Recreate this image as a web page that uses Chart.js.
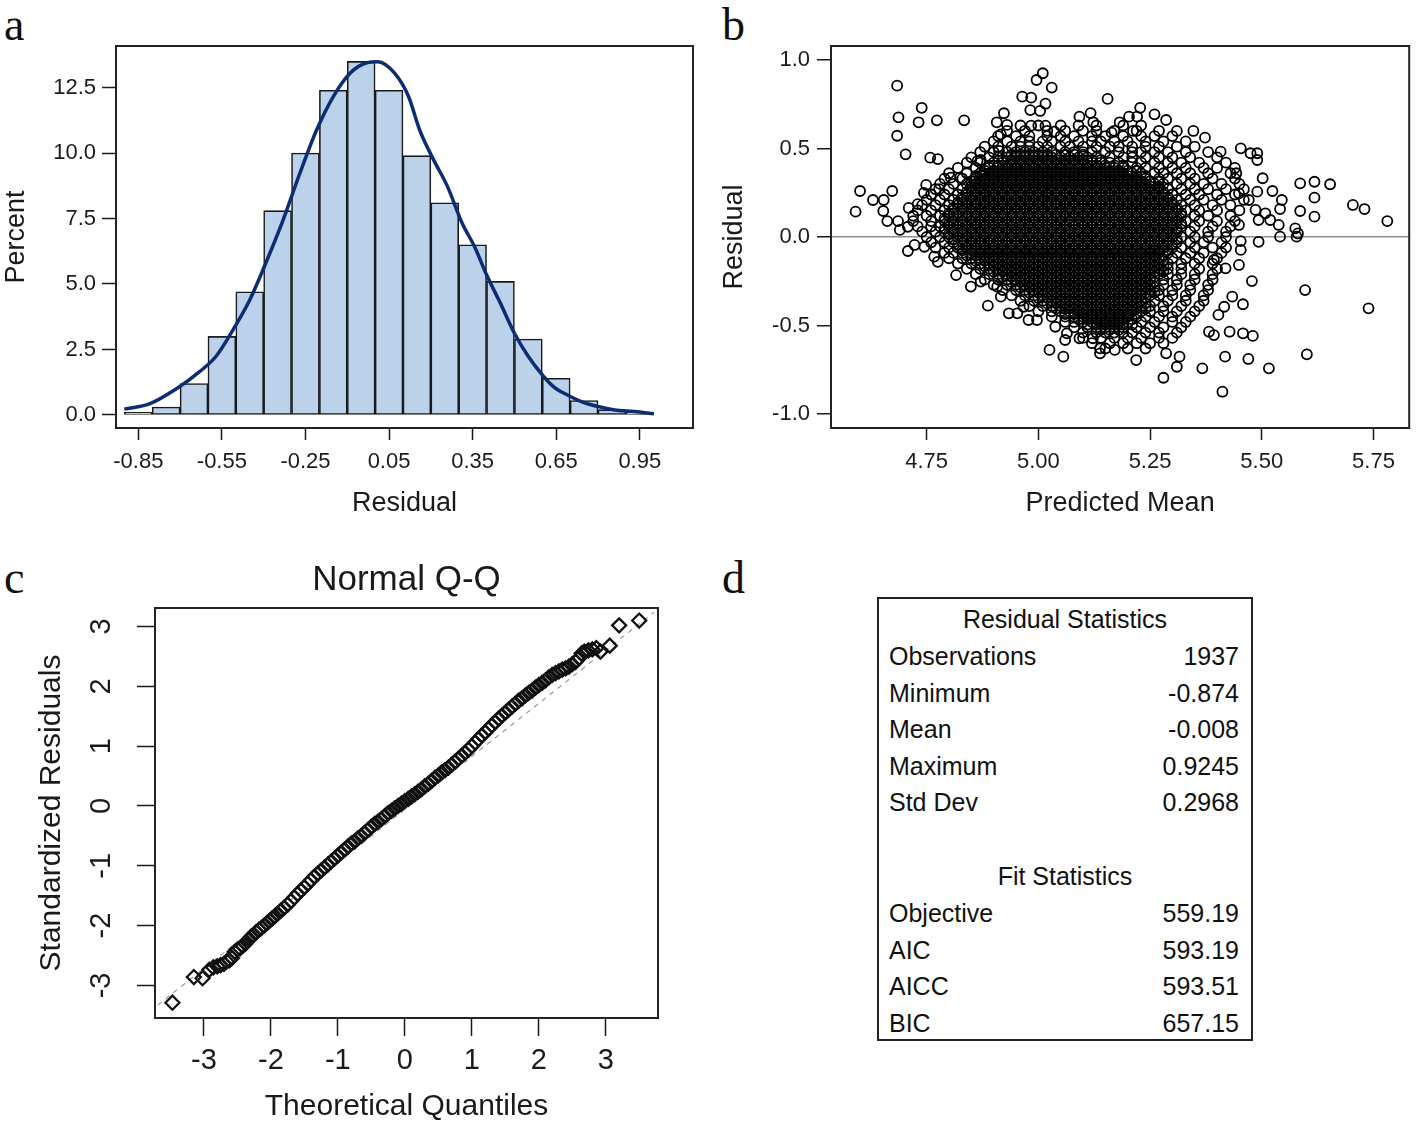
<!DOCTYPE html>
<html>
<head>
<meta charset="utf-8">
<script src="https://cdn.jsdelivr.net/npm/chart.js@4.4.1/dist/chart.umd.min.js"></script>
<style>
  body { margin: 0; background: #fff; width: 1416px; height: 1125px; position: relative; overflow: hidden;
         font-family: "Liberation Sans", Arial, sans-serif; color: #111; }
  canvas { position: absolute; }
  .tag { position: absolute; font-family: "Liberation Serif", "Times New Roman", serif; font-size: 46px; line-height: 1; color: #111; }
  #stats { position: absolute; left: 877px; top: 597px; width: 372px; height: 440px; border: 2px solid #222; font-size: 25px; }
  #stats .row { position: absolute; left: 10px; right: 12px; height: 28px; line-height: 28px; }
  #stats .row .v { float: right; }
  #stats .head { text-align: center; left: 0; right: 0; }
</style>
</head>
<body>
<div class="tag" style="left:4px;top:2px">a</div>
<div class="tag" style="left:722px;top:2px">b</div>
<div class="tag" style="left:4px;top:555px">c</div>
<div class="tag" style="left:722px;top:555px">d</div>

<canvas id="histChart" width="710" height="530" style="left:0;top:0"></canvas>
<canvas id="residChart" width="706" height="530" style="left:710px;top:0"></canvas>
<canvas id="qqChart" width="710" height="585" style="left:0;top:540px"></canvas>
<div id="stats"></div>

<script>
// ===== a: histogram of residuals =====
const binCenters = [-0.85, -0.75, -0.65, -0.55, -0.45, -0.35, -0.25, -0.15, -0.05, 0.05,
                    0.15, 0.25, 0.35, 0.45, 0.55, 0.65, 0.75, 0.85, 0.95];
const binPercent = [0.1, 0.3, 1.2, 3.0, 4.7, 7.8, 10.0, 12.4, 13.5, 12.4,
                    9.9, 8.1, 6.5, 5.1, 2.9, 1.4, 0.55, 0.2, 0.1];
const curveX = [-0.90, -0.81, -0.71, -0.63, -0.57, -0.51, -0.45, -0.39, -0.33, -0.27, -0.21, -0.15, -0.09, -0.03,
                0.01, 0.07, 0.12, 0.16, 0.21, 0.26, 0.31, 0.36, 0.40, 0.45, 0.50, 0.55, 0.60, 0.64, 0.69, 0.74,
                0.80, 0.86, 0.93, 1.00];
const curveY = [0.22, 0.42, 1.02, 1.65, 2.25, 3.25, 4.39, 5.86, 7.45, 9.23, 10.88, 12.16, 13.05, 13.45,
                13.49, 13.05, 12.16, 10.88, 9.74, 8.72, 7.38, 6.36, 5.35, 4.26, 3.12, 2.23, 1.53, 1.08, 0.76, 0.51,
                0.32, 0.19, 0.13, 0.04];
const residualTicks = [-0.85, -0.55, -0.25, 0.05, 0.35, 0.65, 0.95];
const percentTicks = [0, 2.5, 5, 7.5, 10, 12.5];

// ===== b: residual vs predicted mean =====
const meanTicks = [4.75, 5.0, 5.25, 5.5, 5.75];
const residTicks = [-1, -0.5, 0, 0.5, 1];
// the cloud, read row by row (residual level -> predicted means)
const residualRows = [0.63, 0.60, 0.57, 0.54, 0.51, 0.48, 0.45, 0.42, 0.39, 0.36, 0.33, 0.30, 0.27, 0.24, 0.21,
                      0.18, 0.15, 0.12, 0.09, 0.06, 0.03, 0.00, -0.03, -0.06, -0.09, -0.12, -0.15, -0.18, -0.21,
                      -0.24, -0.27, -0.30, -0.33, -0.36, -0.39, -0.42, -0.45, -0.48, -0.51, -0.54, -0.57, -0.60, -0.63];
const rowMeans = [
  [4.96,5.00,5.05,5.09,5.13,5.19,5.23],
  [4.93,4.97,5.02,5.06,5.10,5.13,5.17,5.22,5.27],
  [4.91,4.95,4.98,5.02,5.05,5.08,5.12,5.15,5.19,5.23,5.26,5.30],
  [4.90,4.93,4.96,4.98,5.01,5.03,5.06,5.09,5.12,5.14,5.17,5.20,5.24,5.28,5.33],
  [4.88,4.91,4.94,4.96,4.98,5.00,5.02,5.05,5.07,5.10,5.13,5.16,5.18,5.21,5.24,5.27,5.31,5.35],
  [4.87,4.90,4.93,4.95,4.97,4.99,5.01,5.03,5.06,5.08,5.10,5.12,5.15,5.18,5.21,5.23,5.26,5.29,5.33,5.38],
  [4.85,4.89,4.91,4.93,4.95,4.97,4.99,5.01,5.03,5.05,5.07,5.09,5.11,5.13,5.16,5.19,5.21,5.24,5.27,5.30,5.34,5.40],
  [4.84,4.87,4.90,4.92,4.94,4.96,4.98,5.00,5.02,5.04,5.06,5.08,5.10,5.12,5.14,5.16,5.18,5.21,5.23,5.26,5.29,5.32,5.36,5.42],
  [4.82,4.86,4.89,4.91,4.93,4.95,4.97,4.99,5.01,5.03,5.05,5.07,5.09,5.11,5.13,5.15,5.17,5.19,5.22,5.24,5.27,5.30,5.33,5.37,5.40,5.44],
  [4.80,4.84,4.87,4.89,4.91,4.93,4.95,4.97,4.99,5.01,5.03,5.05,5.07,5.09,5.11,5.13,5.15,5.17,5.19,5.21,5.23,5.26,5.28,5.31,5.34,5.38,5.43],
  [4.79,4.83,4.86,4.88,4.90,4.92,4.94,4.96,4.98,5.00,5.02,5.04,5.06,5.08,5.10,5.12,5.14,5.16,5.18,5.20,5.22,5.24,5.27,5.29,5.32,5.35,5.39,5.44],
  [4.78,4.81,4.84,4.86,4.88,4.90,4.92,4.94,4.96,4.98,5.00,5.02,5.04,5.06,5.08,5.10,5.12,5.14,5.16,5.18,5.20,5.22,5.24,5.26,5.28,5.31,5.34,5.37,5.41,5.45],
  [4.77,4.80,4.83,4.85,4.87,4.89,4.91,4.93,4.95,4.97,4.99,5.01,5.03,5.05,5.07,5.09,5.11,5.13,5.15,5.17,5.19,5.21,5.23,5.25,5.27,5.29,5.32,5.35,5.38,5.42,5.46],
  [4.76,4.79,4.82,4.84,4.86,4.88,4.90,4.92,4.94,4.96,4.98,5.00,5.02,5.04,5.06,5.08,5.10,5.12,5.14,5.16,5.18,5.20,5.22,5.24,5.26,5.28,5.30,5.33,5.36,5.40,5.44],
  [4.75,4.78,4.81,4.83,4.85,4.87,4.89,4.91,4.93,4.95,4.97,4.99,5.01,5.03,5.05,5.07,5.09,5.11,5.13,5.15,5.17,5.19,5.21,5.23,5.25,5.27,5.29,5.31,5.34,5.37,5.41,5.46],
  [4.74,4.77,4.80,4.82,4.84,4.86,4.88,4.90,4.92,4.94,4.96,4.98,5.00,5.02,5.04,5.06,5.08,5.10,5.12,5.14,5.16,5.18,5.20,5.22,5.24,5.26,5.28,5.30,5.32,5.35,5.39,5.43],
  [4.73,4.76,4.79,4.81,4.83,4.85,4.87,4.89,4.91,4.93,4.95,4.97,4.99,5.01,5.03,5.05,5.07,5.09,5.11,5.13,5.15,5.17,5.19,5.21,5.23,5.25,5.27,5.29,5.31,5.33,5.36,5.40,5.45],
  [4.72,4.75,4.78,4.80,4.82,4.84,4.86,4.88,4.90,4.92,4.94,4.96,4.98,5.00,5.02,5.04,5.06,5.08,5.10,5.12,5.14,5.16,5.18,5.20,5.22,5.24,5.26,5.28,5.30,5.32,5.35,5.38,5.43],
  [4.72,4.76,4.79,4.81,4.83,4.85,4.87,4.89,4.91,4.93,4.95,4.97,4.99,5.01,5.03,5.05,5.07,5.09,5.11,5.13,5.15,5.17,5.19,5.21,5.23,5.25,5.27,5.29,5.31,5.33,5.36,5.40,5.44],
  [4.73,4.76,4.78,4.80,4.82,4.84,4.86,4.88,4.90,4.92,4.94,4.96,4.98,5.00,5.02,5.04,5.06,5.08,5.10,5.12,5.14,5.16,5.18,5.20,5.22,5.24,5.26,5.28,5.30,5.32,5.35,5.39,5.43],
  [4.74,4.77,4.79,4.81,4.83,4.85,4.87,4.89,4.91,4.93,4.95,4.97,4.99,5.01,5.03,5.05,5.07,5.09,5.11,5.13,5.15,5.17,5.19,5.21,5.23,5.25,5.27,5.29,5.31,5.34,5.38,5.42],
  [4.75,4.78,4.80,4.82,4.84,4.86,4.88,4.90,4.92,4.94,4.96,4.98,5.00,5.02,5.04,5.06,5.08,5.10,5.12,5.14,5.16,5.18,5.20,5.22,5.24,5.26,5.28,5.30,5.32,5.35,5.38,5.42],
  [4.76,4.79,4.81,4.83,4.85,4.87,4.89,4.91,4.93,4.95,4.97,4.99,5.01,5.03,5.05,5.07,5.09,5.11,5.13,5.15,5.17,5.19,5.21,5.23,5.25,5.27,5.29,5.31,5.34,5.37,5.41],
  [4.77,4.80,4.82,4.84,4.86,4.88,4.90,4.92,4.94,4.96,4.98,5.00,5.02,5.04,5.06,5.08,5.10,5.12,5.14,5.16,5.18,5.20,5.22,5.24,5.26,5.28,5.30,5.32,5.35,5.39,5.42],
  [4.79,4.81,4.83,4.85,4.87,4.89,4.91,4.93,4.95,4.97,4.99,5.01,5.03,5.05,5.07,5.09,5.11,5.13,5.15,5.17,5.19,5.21,5.23,5.25,5.27,5.29,5.31,5.34,5.37,5.41],
  [4.80,4.83,4.85,4.87,4.89,4.91,4.93,4.95,4.97,4.99,5.01,5.03,5.05,5.07,5.09,5.11,5.13,5.15,5.17,5.19,5.21,5.23,5.25,5.27,5.30,5.33,5.36,5.40],
  [4.82,4.85,4.87,4.89,4.91,4.93,4.95,4.97,4.99,5.01,5.03,5.05,5.07,5.09,5.11,5.13,5.15,5.17,5.19,5.21,5.23,5.25,5.27,5.29,5.32,5.35,5.39],
  [4.84,4.87,4.89,4.91,4.93,4.95,4.97,4.99,5.01,5.03,5.05,5.07,5.09,5.11,5.13,5.15,5.17,5.19,5.21,5.23,5.25,5.27,5.29,5.32,5.36,5.40],
  [4.86,4.89,4.91,4.93,4.95,4.97,4.99,5.01,5.03,5.05,5.07,5.09,5.11,5.13,5.15,5.17,5.19,5.21,5.23,5.25,5.27,5.29,5.32,5.35,5.39],
  [4.88,4.91,4.93,4.95,4.97,4.99,5.01,5.03,5.05,5.07,5.09,5.11,5.13,5.15,5.17,5.19,5.21,5.23,5.25,5.28,5.31,5.35,5.39],
  [4.90,4.93,4.95,4.97,4.99,5.01,5.03,5.05,5.07,5.09,5.11,5.13,5.15,5.17,5.19,5.21,5.23,5.25,5.28,5.31,5.34,5.38],
  [4.92,4.95,4.97,4.99,5.01,5.03,5.05,5.07,5.09,5.11,5.13,5.15,5.17,5.19,5.21,5.23,5.25,5.27,5.30,5.34,5.38],
  [4.94,4.97,4.99,5.01,5.03,5.05,5.07,5.09,5.11,5.13,5.15,5.17,5.19,5.21,5.23,5.25,5.27,5.30,5.33,5.37],
  [4.96,4.99,5.01,5.03,5.05,5.07,5.09,5.11,5.13,5.15,5.17,5.19,5.21,5.23,5.26,5.29,5.33,5.37],
  [4.98,5.01,5.03,5.05,5.07,5.09,5.11,5.13,5.15,5.17,5.19,5.21,5.23,5.25,5.28,5.32,5.36],
  [5.00,5.03,5.05,5.07,5.09,5.11,5.13,5.15,5.17,5.19,5.21,5.23,5.25,5.28,5.31,5.35],
  [5.03,5.06,5.08,5.10,5.12,5.14,5.16,5.18,5.20,5.22,5.24,5.27,5.30,5.34],
  [5.06,5.08,5.10,5.12,5.14,5.16,5.18,5.20,5.23,5.26,5.30,5.33],
  [5.08,5.11,5.13,5.15,5.17,5.19,5.22,5.25,5.28,5.32],
  [5.10,5.13,5.15,5.17,5.19,5.21,5.24,5.27,5.31],
  [5.10,5.14,5.17,5.20,5.23,5.27,5.30],
  [5.12,5.16,5.19,5.22,5.25,5.28],
  [5.15,5.20,5.24]
];
// the solid black middle has points in between those rows too
const blackRows = [0.465, 0.435, 0.405, 0.375, 0.345, 0.315, 0.285, 0.255, 0.225, 0.195, 0.165, 0.135, 0.105,
                   0.075, 0.045, 0.015, -0.015, -0.045, -0.075, -0.105, -0.135, -0.165, -0.195, -0.225, -0.255,
                   -0.285, -0.315, -0.345, -0.375, -0.405, -0.435, -0.465, -0.495, -0.525];
const blackMeans = [
  [4.94,4.96,4.98,5.00,5.02,5.04,5.06,5.08,5.10],
  [4.92,4.94,4.96,4.98,5.00,5.02,5.04,5.06,5.08,5.10,5.12,5.14],
  [4.89,4.91,4.93,4.95,4.97,4.99,5.01,5.03,5.05,5.07,5.09,5.11,5.13,5.15,5.17,5.19],
  [4.88,4.90,4.92,4.94,4.96,4.98,5.00,5.02,5.04,5.06,5.08,5.10,5.12,5.14,5.16,5.18,5.20,5.22],
  [4.86,4.88,4.90,4.92,4.94,4.96,4.98,5.00,5.02,5.04,5.06,5.08,5.10,5.12,5.14,5.16,5.18,5.20,5.22,5.24],
  [4.85,4.87,4.89,4.91,4.93,4.95,4.97,4.99,5.01,5.03,5.05,5.07,5.09,5.11,5.13,5.15,5.17,5.19,5.21,5.23,5.25,5.27],
  [4.85,4.87,4.89,4.91,4.93,4.95,4.97,4.99,5.01,5.03,5.05,5.07,5.09,5.11,5.13,5.15,5.17,5.19,5.21,5.23,5.25,5.27],
  [4.84,4.86,4.88,4.90,4.92,4.94,4.96,4.98,5.00,5.02,5.04,5.06,5.08,5.10,5.12,5.14,5.16,5.18,5.20,5.22,5.24,5.26,5.28],
  [4.83,4.85,4.87,4.89,4.91,4.93,4.95,4.97,4.99,5.01,5.03,5.05,5.07,5.09,5.11,5.13,5.15,5.17,5.19,5.21,5.23,5.25,5.27,5.29],
  [4.82,4.84,4.86,4.88,4.90,4.92,4.94,4.96,4.98,5.00,5.02,5.04,5.06,5.08,5.10,5.12,5.14,5.16,5.18,5.20,5.22,5.24,5.26,5.28,5.30],
  [4.81,4.83,4.85,4.87,4.89,4.91,4.93,4.95,4.97,4.99,5.01,5.03,5.05,5.07,5.09,5.11,5.13,5.15,5.17,5.19,5.21,5.23,5.25,5.27,5.29,5.31],
  [4.80,4.82,4.84,4.86,4.88,4.90,4.92,4.94,4.96,4.98,5.00,5.02,5.04,5.06,5.08,5.10,5.12,5.14,5.16,5.18,5.20,5.22,5.24,5.26,5.28,5.30,5.32],
  [4.79,4.81,4.83,4.85,4.87,4.89,4.91,4.93,4.95,4.97,4.99,5.01,5.03,5.05,5.07,5.09,5.11,5.13,5.15,5.17,5.19,5.21,5.23,5.25,5.27,5.29,5.31],
  [4.80,4.82,4.84,4.86,4.88,4.90,4.92,4.94,4.96,4.98,5.00,5.02,5.04,5.06,5.08,5.10,5.12,5.14,5.16,5.18,5.20,5.22,5.24,5.26,5.28,5.30,5.32],
  [4.79,4.81,4.83,4.85,4.87,4.89,4.91,4.93,4.95,4.97,4.99,5.01,5.03,5.05,5.07,5.09,5.11,5.13,5.15,5.17,5.19,5.21,5.23,5.25,5.27,5.29,5.31],
  [4.80,4.82,4.84,4.86,4.88,4.90,4.92,4.94,4.96,4.98,5.00,5.02,5.04,5.06,5.08,5.10,5.12,5.14,5.16,5.18,5.20,5.22,5.24,5.26,5.28,5.30],
  [4.81,4.83,4.85,4.87,4.89,4.91,4.93,4.95,4.97,4.99,5.01,5.03,5.05,5.07,5.09,5.11,5.13,5.15,5.17,5.19,5.21,5.23,5.25,5.27,5.29,5.31],
  [4.82,4.84,4.86,4.88,4.90,4.92,4.94,4.96,4.98,5.00,5.02,5.04,5.06,5.08,5.10,5.12,5.14,5.16,5.18,5.20,5.22,5.24,5.26,5.28,5.30],
  [4.83,4.85,4.87,4.89,4.91,4.93,4.95,4.97,4.99,5.01,5.03,5.05,5.07,5.09,5.11,5.13,5.15,5.17,5.19,5.21,5.23,5.25,5.27,5.29],
  [4.84,4.86,4.88,4.90,4.92,4.94,4.96,4.98,5.00,5.02,5.04,5.06,5.08,5.10,5.12,5.14,5.16,5.18,5.20,5.22,5.24,5.26,5.28],
  [4.86,4.88,4.90,4.92,4.94,4.96,4.98,5.00,5.02,5.04,5.06,5.08,5.10,5.12,5.14,5.16,5.18,5.20,5.22,5.24,5.26,5.28],
  [4.88,4.90,4.92,4.94,4.96,4.98,5.00,5.02,5.04,5.06,5.08,5.10,5.12,5.14,5.16,5.18,5.20,5.22,5.24,5.26,5.28],
  [4.90,4.92,4.94,4.96,4.98,5.00,5.02,5.04,5.06,5.08,5.10,5.12,5.14,5.16,5.18,5.20,5.22,5.24,5.26,5.28],
  [4.92,4.94,4.96,4.98,5.00,5.02,5.04,5.06,5.08,5.10,5.12,5.14,5.16,5.18,5.20,5.22,5.24,5.26],
  [4.94,4.96,4.98,5.00,5.02,5.04,5.06,5.08,5.10,5.12,5.14,5.16,5.18,5.20,5.22,5.24,5.26],
  [4.96,4.98,5.00,5.02,5.04,5.06,5.08,5.10,5.12,5.14,5.16,5.18,5.20,5.22,5.24,5.26],
  [4.98,5.00,5.02,5.04,5.06,5.08,5.10,5.12,5.14,5.16,5.18,5.20,5.22,5.24,5.26],
  [5.00,5.02,5.04,5.06,5.08,5.10,5.12,5.14,5.16,5.18,5.20,5.22,5.24],
  [5.02,5.04,5.06,5.08,5.10,5.12,5.14,5.16,5.18,5.20,5.22,5.24],
  [5.04,5.06,5.08,5.10,5.12,5.14,5.16,5.18,5.20,5.22,5.24],
  [5.06,5.08,5.10,5.12,5.14,5.16,5.18,5.20,5.22],
  [5.09,5.11,5.13,5.15,5.17,5.19,5.21],
  [5.11,5.13,5.15,5.17,5.19,5.21],
  [5.14,5.16,5.18]
];
// points around the edge of the cloud [predicted mean, residual]
const edgePoints = [
  [4.684,0.855],[4.687,0.676],[4.684,0.572],[4.703,0.467],[4.739,0.73],[4.732,0.648],[4.773,0.659],[4.834,0.659],
  [4.758,0.448],[4.775,0.44],[4.601,0.26],[4.591,0.143],[4.630,0.209],[4.654,0.209],[4.673,0.26],[4.653,0.147],
  [4.662,0.09],[4.686,0.09],[4.69,0.04],[4.71,0.164],[4.73,0.186],[4.708,0.058],[4.749,0.294],[4.744,0.249],
  [4.778,0.271],[4.804,0.335],[4.825,0.335],[4.856,0.316],[4.875,0.35],[4.871,0.435],[4.864,0.43],[4.912,0.486],
  [4.916,0.58],[4.923,0.699],[4.907,0.648],[4.93,0.633],[4.964,0.793],[4.984,0.787],[4.982,0.717],[5.004,0.712],
  [5.016,0.753],[4.996,0.887],[5.01,0.925],[5.03,0.844],[4.984,0.629],[5.016,0.629],[5.036,0.595],[5.092,0.68],
  [5.117,0.70],[5.123,0.648],[5.155,0.78],[5.228,0.73],[5.203,0.68],[5.221,0.68],[5.182,0.648],[5.26,0.693],
  [5.286,0.661],[5.164,0.59],[5.212,0.599],[5.31,0.599],[5.347,0.599],[5.373,0.561],[5.408,0.482],[5.453,0.501],
  [5.475,0.473],[5.49,0.473],[5.49,0.435],[5.443,0.36],[5.502,0.332],[5.586,0.303],[5.618,0.312],[5.653,0.298],
  [5.618,0.222],[5.704,0.181],[5.73,0.158],[5.781,0.09],[5.586,0.147],[5.618,0.115],[5.524,0.26],[5.545,0.209],
  [5.541,0.158],[5.49,0.256],[5.471,0.209],[5.449,0.247],[5.486,0.153],[5.508,0.134],[5.519,0.096],[5.493,0.096],
  [5.449,0.068],[5.538,0.068],[5.575,0.049],[5.581,0.02],[5.453,-0.023],[5.453,-0.073],[5.493,-0.027],[5.541,0.002],
  [5.578,0.002],[5.449,-0.158],[5.393,-0.13],[5.419,-0.177],[5.478,-0.249],[5.597,-0.30],[5.739,-0.403],[5.458,-0.38],
  [5.434,-0.337],[5.416,-0.394],[5.403,-0.44],[5.428,-0.535],[5.458,-0.544],[5.48,-0.559],[5.393,-0.554],[5.382,-0.535],
  [5.418,-0.676],[5.47,-0.689],[5.516,-0.742],[5.367,-0.742],[5.31,-0.733],[5.28,-0.795],[5.412,-0.874],[5.601,-0.663],
  [5.316,-0.676],[5.286,-0.657],[5.219,-0.695],[5.171,-0.638],[5.138,-0.629],[4.708,-0.079],[4.723,-0.045],[4.745,-0.055],
  [4.767,-0.111],[4.775,-0.14],[4.816,-0.215],[4.849,-0.28],[4.871,-0.252],[4.887,-0.388],[4.916,-0.337],[4.908,-0.28],
  [4.934,-0.431],[4.953,-0.431],[4.978,-0.469],[4.997,-0.469],[4.967,-0.394],[5.025,-0.638],[5.056,-0.676],[5.038,-0.507],
  [5.06,-0.582],[5.064,-0.544],[5.092,-0.572],[5.122,-0.572],[5.138,-0.657]
];

// ===== c: normal Q-Q =====
const quantileTicks = [-3, -2, -1, 0, 1, 2, 3];
const qqTheoretical = [-3.47,-3.15,-3.02,-2.92,-2.86,-2.80,-2.75,-2.70,-2.66,-2.62,-2.58,-2.54,-2.50,-2.46,-2.42,-2.38,
  -2.34,-2.30,-2.26,-2.22,-2.18,-2.14,-2.10,-2.06,-2.02,-1.98,-1.94,-1.90,-1.85,-1.80,-1.75,-1.70,-1.65,-1.60,-1.55,
  -1.50,-1.45,-1.40,-1.35,-1.30,-1.25,-1.20,-1.15,-1.10,-1.05,-1.00,-0.95,-0.90,-0.85,-0.80,-0.75,-0.70,-0.65,-0.60,
  -0.55,-0.50,-0.45,-0.40,-0.35,-0.30,-0.25,-0.20,-0.15,-0.10,-0.05,0.00,0.05,0.10,0.15,0.20,0.25,0.30,0.35,0.40,0.45,
  0.50,0.55,0.60,0.65,0.70,0.75,0.80,0.85,0.90,0.95,1.00,1.05,1.10,1.15,1.20,1.25,1.30,1.35,1.40,1.45,1.50,1.55,1.60,
  1.65,1.70,1.75,1.80,1.85,1.90,1.95,2.00,2.05,2.10,2.15,2.20,2.25,2.30,2.35,2.40,2.45,2.50,2.55,2.60,2.64,2.68,2.74,
  2.80,2.86,2.92,3.06,3.20,3.50];
const qqSample = [-3.29,-2.86,-2.88,-2.74,-2.70,-2.68,-2.66,-2.64,-2.60,-2.58,-2.54,-2.44,-2.40,-2.38,-2.34,-2.30,
  -2.24,-2.19,-2.16,-2.11,-2.07,-2.04,-2.00,-1.96,-1.92,-1.88,-1.84,-1.80,-1.75,-1.70,-1.65,-1.59,-1.53,-1.47,-1.41,
  -1.36,-1.30,-1.24,-1.18,-1.13,-1.08,-1.03,-0.98,-0.93,-0.88,-0.83,-0.78,-0.73,-0.68,-0.63,-0.59,-0.54,-0.50,-0.45,
  -0.40,-0.35,-0.30,-0.26,-0.22,-0.17,-0.12,-0.08,-0.04,0.00,0.04,0.08,0.12,0.16,0.20,0.24,0.28,0.33,0.37,0.42,0.47,
  0.51,0.56,0.60,0.64,0.69,0.74,0.79,0.84,0.89,0.94,1.00,1.06,1.12,1.18,1.23,1.29,1.35,1.40,1.46,1.51,1.56,1.61,1.66,
  1.71,1.76,1.80,1.85,1.89,1.93,1.98,2.02,2.06,2.10,2.15,2.19,2.22,2.25,2.28,2.30,2.33,2.37,2.41,2.47,2.55,2.58,2.60,
  2.62,2.64,2.58,2.68,3.02,3.10];
const qqLineX = [-3.69, 3.72];
const qqLineY = [-3.33, 3.24];

// ===== d: statistics table =====
const residualStatNames = ["Observations", "Minimum", "Mean", "Maximum", "Std Dev"];
const residualStatValues = ["1937", "-0.874", "-0.008", "0.9245", "0.2968"];
const fitStatNames = ["Objective", "AIC", "AICC", "BIC"];
const fitStatValues = ["559.19", "593.19", "593.51", "657.15"];

const FONT = '"Liberation Sans", Arial, sans-serif';
const INK = "#1a1a1a";

// khung bao quanh vùng vẽ
const framePlugin = {
  id: "frame",
  afterDraw(chart) {
    const { ctx, chartArea: a } = chart;
    ctx.save();
    ctx.strokeStyle = "#222";
    ctx.lineWidth = 2;
    ctx.strokeRect(a.left, a.top, a.right - a.left, a.bottom - a.top);
    ctx.restore();
  },
};

function fixedTicks(list) {
  return function (scale) {
    scale.ticks = list.map((v) => ({ value: v }));
  };
}

function tickGrid(len) {
  return { display: true, drawOnChartArea: false, drawTicks: true, tickLength: len, tickColor: INK, tickWidth: 1.5 };
}

/* ===== a ===== */
new Chart(document.getElementById("histChart"), {
  type: "bar",
  data: {
    datasets: [
      {
        type: "line",
        data: curveX.map((x, i) => ({ x: x, y: curveY[i] })),
        borderColor: "#0c2c74",
        borderWidth: 3.5,
        pointRadius: 0,
        cubicInterpolationMode: "monotone",
        order: 0,
      },
      {
        type: "bar",
        data: binCenters.map((x, i) => ({ x: x, y: binPercent[i] })),
        backgroundColor: "#bcd2ea",
        borderColor: INK,
        borderWidth: 1.6,
        borderSkipped: false,
        barPercentage: 1,
        categoryPercentage: 1,
        grouped: false,
        order: 1,
      },
    ],
  },
  options: {
    responsive: false,
    animation: false,
    layout: { padding: { top: 46, right: 17, left: 0, bottom: 0 } },
    plugins: { legend: { display: false }, tooltip: { enabled: false } },
    scales: {
      x: {
        type: "linear",
        min: -0.93,
        max: 1.141,
        offset: false,
        afterBuildTicks: fixedTicks(residualTicks),
        afterFit: (s) => { s.height = 102; },
        grid: Object.assign(tickGrid(12), { offset: false }),
        border: { display: false },
        ticks: { font: { family: FONT, size: 22 }, color: INK, padding: 9, maxRotation: 0, callback: (v) => v.toFixed(2) },
        title: { display: true, text: "Residual", font: { family: FONT, size: 27 }, color: INK, padding: { top: 0, bottom: 10 } },
      },
      y: {
        type: "linear",
        min: -0.5,
        max: 14.09,
        afterBuildTicks: fixedTicks(percentTicks),
        afterFit: (s) => { s.width = 116; },
        grid: tickGrid(14),
        border: { display: false },
        ticks: { font: { family: FONT, size: 22 }, color: INK, padding: 6, callback: (v) => v.toFixed(1) },
        title: { display: true, text: "Percent", font: { family: FONT, size: 27 }, color: INK, padding: { top: 0, bottom: 0 } },
      },
    },
  },
  plugins: [framePlugin],
});

/* ===== b ===== */
const scatterData = [];
residualRows.forEach((r, i) => {
  rowMeans[i].forEach((m) => scatterData.push({ x: m, y: r }));
});
blackRows.forEach((r, i) => {
  blackMeans[i].forEach((m) => scatterData.push({ x: m, y: r }));
});
edgePoints.forEach((p) => scatterData.push({ x: p[0], y: p[1] }));

new Chart(document.getElementById("residChart"), {
  type: "scatter",
  data: {
    datasets: [
      {
        data: scatterData,
        pointStyle: "circle",
        pointRadius: 5,
        pointBorderWidth: 1.8,
        borderColor: "#000",
        backgroundColor: "rgba(0,0,0,0)",
      },
    ],
  },
  options: {
    responsive: false,
    animation: false,
    layout: { padding: { top: 46, right: 5, left: 0, bottom: 0 } },
    plugins: { legend: { display: false }, tooltip: { enabled: false } },
    scales: {
      x: {
        type: "linear",
        min: 4.536,
        max: 5.83,
        afterBuildTicks: fixedTicks(meanTicks),
        afterFit: (s) => { s.height = 102; },
        grid: tickGrid(12),
        border: { display: false },
        ticks: { font: { family: FONT, size: 22 }, color: INK, padding: 9, maxRotation: 0, callback: (v) => v.toFixed(2) },
        title: { display: true, text: "Predicted Mean", font: { family: FONT, size: 27 }, color: INK, padding: { top: 0, bottom: 10 } },
      },
      y: {
        type: "linear",
        min: -1.079,
        max: 1.079,
        afterBuildTicks: fixedTicks(residTicks),
        afterFit: (s) => { s.width = 121; },
        grid: {
          display: true,
          drawOnChartArea: true,
          drawTicks: true,
          tickLength: 14,
          tickColor: INK,
          tickWidth: 1.5,
          lineWidth: 1.5,
          color: (c) => (c.tick && c.tick.value === 0 ? "#8c8c8c" : "rgba(0,0,0,0)"),
        },
        border: { display: false },
        ticks: { font: { family: FONT, size: 22 }, color: INK, padding: 7, callback: (v) => v.toFixed(1) },
        title: { display: true, text: "Residual", font: { family: FONT, size: 27 }, color: INK, padding: { top: 8, bottom: 0 } },
      },
    },
  },
  plugins: [framePlugin],
});

/* ===== c ===== */
const qqTitle = {
  id: "qqTitle",
  afterDraw(chart) {
    const { ctx, chartArea: a } = chart;
    ctx.save();
    ctx.font = "35px " + FONT;
    ctx.fillStyle = INK;
    ctx.textAlign = "center";
    ctx.textBaseline = "middle";
    ctx.fillText("Normal Q-Q", (a.left + a.right) / 2, 40);
    // nhãn trục y xoay dọc như R
    const ys = chart.scales.y;
    ctx.font = "29px " + FONT;
    quantileTicks.forEach((v) => {
      ctx.save();
      ctx.translate(102, ys.getPixelForValue(v));
      ctx.rotate(-Math.PI / 2);
      ctx.fillText(String(v), 0, 0);
      ctx.restore();
    });
    ctx.restore();
  },
};

new Chart(document.getElementById("qqChart"), {
  type: "scatter",
  data: {
    datasets: [
      {
        data: qqTheoretical.map((x, i) => ({ x: x, y: qqSample[i] })),
        pointStyle: "rectRot",
        pointRadius: 7,
        pointBorderWidth: 2.3,
        borderColor: "#111",
        backgroundColor: "rgba(0,0,0,0)",
        order: 0,
      },
      {
        data: qqLineX.map((x, i) => ({ x: x, y: qqLineY[i] })),
        showLine: true,
        borderColor: "#9a9a9a",
        borderWidth: 1.2,
        borderDash: [5, 5],
        pointRadius: 0,
        order: 1,
      },
    ],
  },
  options: {
    responsive: false,
    animation: false,
    layout: { padding: { top: 68, right: 52, left: 0, bottom: 0 } },
    plugins: { legend: { display: false }, tooltip: { enabled: false } },
    scales: {
      x: {
        type: "linear",
        min: -3.73,
        max: 3.78,
        afterBuildTicks: fixedTicks(quantileTicks),
        afterFit: (s) => { s.height = 107; },
        grid: tickGrid(18),
        border: { display: false },
        ticks: { font: { family: FONT, size: 29 }, color: INK, padding: 8, maxRotation: 0 },
        title: { display: true, text: "Theoretical Quantiles", font: { family: FONT, size: 30 }, color: INK, padding: { top: 0, bottom: 0 } },
      },
      y: {
        type: "linear",
        min: -3.545,
        max: 3.31,
        afterBuildTicks: fixedTicks(quantileTicks),
        afterFit: (s) => { s.width = 155; },
        grid: tickGrid(18),
        border: { display: false },
        ticks: { display: false },
        title: { display: true, text: "Standardized Residuals", font: { family: FONT, size: 30 }, color: INK, padding: { top: 34, bottom: 0 } },
      },
    },
  },
  plugins: [framePlugin, qqTitle],
});

/* ===== d ===== */
const stats = document.getElementById("stats");
function addRow(top, name, value, head) {
  const row = document.createElement("div");
  row.className = head ? "row head" : "row";
  row.style.top = top + "px";
  if (head) {
    row.textContent = name;
  } else {
    const v = document.createElement("span");
    v.className = "v";
    v.textContent = value;
    row.appendChild(v);
    row.appendChild(document.createTextNode(name));
  }
  stats.appendChild(row);
}
addRow(6, "Residual Statistics", "", true);
residualStatNames.forEach((n, i) => addRow(43 + i * 36.6, n, residualStatValues[i]));
addRow(263, "Fit Statistics", "", true);
fitStatNames.forEach((n, i) => addRow(300 + i * 36.7, n, fitStatValues[i]));
</script>
</body>
</html>
